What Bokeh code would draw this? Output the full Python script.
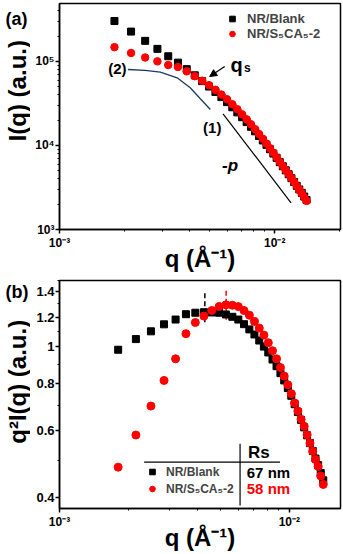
import math
from bokeh.plotting import figure
from bokeh.models import FixedTicker, Label, Legend, LegendItem, Arrow, NormalHead, GridBox
from bokeh.core.properties import value
from bokeh.embed import file_html
from bokeh.resources import INLINE

FONT = "Liberation Sans"

# ---------------- data ----------------
q = [1.80e-3, 2.15e-3, 2.50e-3, 2.85e-3, 3.20e-3, 3.55e-3, 3.90e-3, 4.25e-3, 4.60e-3,
     4.95e-3, 5.30e-3, 5.65e-3, 6.00e-3, 6.35e-3, 6.70e-3, 7.05e-3, 7.40e-3, 7.75e-3,
     8.10e-3, 8.45e-3, 8.80e-3, 9.15e-3, 9.50e-3, 9.85e-3, 10.20e-3, 10.55e-3, 10.90e-3,
     11.25e-3, 11.60e-3, 11.95e-3, 12.30e-3, 12.65e-3, 13.00e-3, 13.35e-3, 13.70e-3, 14.05e-3]

I_blank = [303400, 226900, 176000, 141300, 115400, 96890, 81000, 68430, 58320,
           50280, 43400, 37650, 32830, 28500, 24790, 21710, 18990, 16680,
           14740, 12970, 11480, 10180, 9030, 8020, 7130, 6330, 5660,
           5060, 4550, 4080, 3675, 3310, 2995, 2730, 2470, 2245]

I_s5ca5 = [148100, 126300, 111500, 100300, 90820, 86020, 76330, 66820, 59030,
           52240, 46030, 40410, 35530, 30980, 27040, 23500, 20490, 17900,
           15640, 13680, 12010, 10530, 9270, 8180, 7230, 6380, 5690,
           5080, 4580, 4100, 3675, 3305, 2975, 2705, 2425, 2190]

q2I_blank = [0.983, 1.049, 1.100, 1.148, 1.182, 1.221, 1.232, 1.236, 1.234,
             1.232, 1.219, 1.202, 1.182, 1.149, 1.113, 1.079, 1.040, 1.002,
             0.967, 0.926, 0.889, 0.852, 0.815, 0.778, 0.742, 0.705, 0.672,
             0.640, 0.612, 0.583, 0.556, 0.530, 0.506, 0.486, 0.463, 0.443]

q2I_s5ca5 = [0.480, 0.584, 0.697, 0.815, 0.930, 1.084, 1.161, 1.207, 1.249,
             1.280, 1.293, 1.290, 1.279, 1.249, 1.214, 1.168, 1.122, 1.075,
             1.026, 0.977, 0.930, 0.882, 0.837, 0.794, 0.752, 0.710, 0.676,
             0.643, 0.616, 0.585, 0.556, 0.529, 0.503, 0.482, 0.455, 0.432]

fit_q = [2.08e-3, 2.50e-3, 2.94e-3, 3.52e-3, 4.05e-3, 4.51e-3, 5.02e-3]
fit_I = [80300, 78500, 74700, 64000, 48600, 35960, 26830]

slope_q = [5.75e-3, 11.9e-3]
slope_I = [23800, 2080]

peak_q = [4.29e-3, 5.31e-3]
peak_lo = [1.162, 1.18]
peak_hi = [1.405, 1.419]

series_names = ["NR/Blank", "NR/S\u2085CA\u2085-2"]
rs_values = ["67 nm", "58 nm"]
colors = ["black", "#ff0000"]
panel_tags = ["(a)", "(b)"]
y_titles = ["I(q) (a.u.)", "q\u00b2I(q) (a.u.)"]
x_title = "q (\u00c5\u207b\u00b9)"

x_ticks = [1e-3, 1e-2]
x_minor = [2e-3, 3e-3, 4e-3, 5e-3, 6e-3, 7e-3, 8e-3, 9e-3, 2e-2]
x_labels = {1e-3: "10\u207b\u00b3", 1e-2: "10\u207b\u00b2"}
ya_ticks = [1e3, 1e4, 1e5]
ya_minor = [2e3, 3e3, 4e3, 5e3, 6e3, 7e3, 8e3, 9e3, 2e4, 3e4, 4e4, 5e4, 6e4, 7e4, 8e4, 9e4,
            2e5, 3e5, 4e5]
ya_labels = {1e3: "10\u00b3", 1e4: "10\u2074", 1e5: "10\u2075"}
yb_ticks = [0.4, 0.6, 0.8, 1.0, 1.2, 1.4]
yb_minor = [0.5, 0.7, 0.9, 1.1, 1.3, 1.5]
yb_labels = {0.4: "0.4", 0.6: "0.6", 0.8: "0.8", 1.0: "1", 1.2: "1.2", 1.4: "1.4"}

STRIP_W = 30


def make_fig(height, x_range, y_range, border_top, border_bottom):
    p = figure(width=343 - STRIP_W, height=height, x_axis_type="log", y_axis_type="log",
               x_range=x_range, y_range=y_range, output_backend="svg",
               toolbar_location=None, min_border_left=59 - STRIP_W, min_border_right=3,
               min_border_top=border_top, min_border_bottom=border_bottom)
    p.xgrid.visible = False
    p.ygrid.visible = False
    p.outline_line_color = "black"
    p.outline_line_width = 1.5
    p.background_fill_color = "white"
    p.border_fill_color = "white"
    for ax in (p.xaxis[0], p.yaxis[0]):
        ax.axis_line_width = 1.5
        ax.axis_line_color = "black"
        ax.major_tick_line_color = "black"
        ax.minor_tick_line_color = "black"
        ax.major_tick_line_width = 1.5
        ax.minor_tick_line_width = 1
        ax.major_tick_in = 0
        ax.major_tick_out = 4
        ax.minor_tick_in = 0
        ax.minor_tick_out = 2
        ax.major_label_text_font = FONT
        ax.major_label_text_font_style = "bold"
        ax.major_label_text_font_size = "12px"
        ax.major_label_text_color = "black"
    p.xaxis.major_label_standoff = 2
    p.yaxis.major_label_standoff = 1
    xa = p.xaxis[0]
    xa.axis_label = x_title
    xa.axis_label_text_font = FONT
    xa.axis_label_text_font_style = "bold"
    xa.axis_label_text_color = "black"
    xa.axis_label_text_font_size = "24px"
    xa.axis_label_standoff = -8
    return p


def strip_fig(height, tag, tag_y, title, title_y):
    # left strip that carries the panel tag and the rotated y-axis title
    s = figure(width=STRIP_W, height=height, x_range=(0, STRIP_W), y_range=(0, height),
               output_backend="svg", toolbar_location=None, x_axis_type=None,
               y_axis_type=None, min_border=0)
    s.outline_line_color = None
    s.xgrid.visible = False
    s.ygrid.visible = False
    s.text(x=[5], y=[height - tag_y], text=[tag], text_font=value(FONT),
           text_font_size="18px", text_font_style="bold", text_color="black",
           text_align="left", text_baseline="middle")
    s.text(x=[16.5], y=[height - title_y], text=[title], text_font=value(FONT),
           text_font_size="24px", text_font_style="bold", text_color="black",
           text_align="center", text_baseline="middle", angle=math.pi / 2)
    return s


def txt(p, x, y, text, size, color="black", style="bold", align="left",
        baseline="middle"):
    p.add_layout(Label(x=x, y=y, text=text, text_font=FONT, text_font_size=size,
                       text_font_style=style, text_color=color, text_align=align,
                       text_baseline=baseline))


# ---------------- panel (a) ----------------
HA = 276
fa = make_fig(HA, (1e-3, 0.0202), (1e3, 4.9e5), 3, 47)
fa.xaxis.ticker = FixedTicker(ticks=x_ticks, minor_ticks=x_minor)
fa.xaxis.major_label_overrides = x_labels
fa.yaxis.ticker = FixedTicker(ticks=ya_ticks, minor_ticks=ya_minor)
fa.yaxis.major_label_overrides = ya_labels

fa.line(fit_q, fit_I, line_color="#1f3864", line_width=1.3)
fa.line(slope_q, slope_I, line_color="black", line_width=1.2)
ra1 = fa.scatter(q, I_blank, marker="square", size=7, color=colors[0])
ra2 = fa.scatter(q, I_s5ca5, marker="circle", size=7.5, color=colors[1])

leg_a = Legend(items=[LegendItem(label=series_names[0], renderers=[ra1]),
                      LegendItem(label=series_names[1], renderers=[ra2])],
               location=(166, 188), orientation="vertical",
               label_text_font=FONT, label_text_font_style="bold",
               label_text_font_size="13px", label_height=15, glyph_height=15,
               glyph_width=14, label_standoff=8, spacing=0, padding=0, margin=0,
               border_line_alpha=0, background_fill_alpha=0)
fa.add_layout(leg_a)

fa.add_layout(Arrow(end=NormalHead(size=7, fill_color="black", line_color="black"),
                    x_start=5.854e-3, y_start=87100, x_end=4.984e-3, y_end=66270,
                    line_width=1.2, line_color="black"))
txt(fa, 6.22e-3, 92050, "q", "20px", baseline="alphabetic")
txt(fa, 7.2e-3, 82560, "s", "12px", baseline="alphabetic")
txt(fa, 1.684e-3, 81850, "(2)", "15px")
txt(fa, 4.645e-3, 16520, "(1)", "15px")
txt(fa, 5.69e-3, 5781, "-p", "17px", style="bold italic")

# ---------------- panel (b) ----------------
HB = 278
fb = make_fig(HB, (1e-3, 0.0167), (0.373, 1.50), 4, 46)
fb.xaxis.ticker = FixedTicker(ticks=x_ticks, minor_ticks=x_minor)
fb.xaxis.major_label_overrides = x_labels
fb.yaxis.ticker = FixedTicker(ticks=yb_ticks, minor_ticks=yb_minor)
fb.yaxis.major_label_overrides = yb_labels
fb.yaxis.major_label_text_font_size = "13px"

for i in range(2):
    fb.line([peak_q[i], peak_q[i]], [peak_lo[i], peak_hi[i]], line_color=colors[i],
            line_width=1.5, line_dash="5 3")

rb1 = fb.scatter(q, q2I_blank, marker="square", size=7, color=colors[0])
rb2 = fb.scatter(q, q2I_s5ca5, marker="circle", size=8, color=colors[1])

# table-style legend
fb.line([2.335e-3, 9.11e-3], [0.495, 0.495], line_color="black", line_width=1.2)
fb.line([6.105e-3, 6.105e-3], [0.380, 0.554], line_color="black", line_width=1.2)
leg_b = Legend(items=[LegendItem(label=series_names[0], renderers=[rb1]),
                      LegendItem(label=series_names[1], renderers=[rb2])],
               location=(86, 11), orientation="vertical",
               label_text_font=FONT, label_text_font_style="bold",
               label_text_font_size="12px", label_height=17, glyph_height=17,
               glyph_width=14, label_standoff=7, spacing=0, padding=0, margin=0,
               border_line_alpha=0, background_fill_alpha=0)
fb.add_layout(leg_b)
txt(fb, 6.613e-3, 0.526, "Rs", "17px")
txt(fb, 6.53e-3, 0.464, rs_values[0], "15px", color=colors[0])
txt(fb, 6.53e-3, 0.421, rs_values[1], "15px", color=colors[1])

sa = strip_fig(HA, panel_tags[0], 18.5, y_titles[0], 106.5)
sb = strip_fig(HB, panel_tags[1], 13.5, y_titles[1], 123.5)

layout = GridBox(children=[(sa, 0, 0), (fa, 0, 1), (sb, 1, 0), (fb, 1, 1)], spacing=0)
open("out.html", "w").write(file_html(layout, INLINE))
